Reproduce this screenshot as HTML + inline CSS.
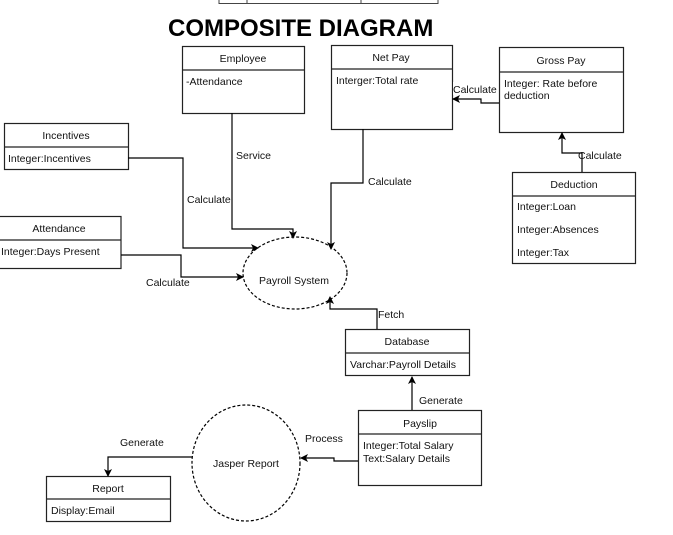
<!DOCTYPE html>
<html><head><style>
html,body{margin:0;padding:0;background:#fff;}
svg{display:block;font-family:"Liberation Sans",Arial,sans-serif;}
</style></head><body>
<svg width="673" height="535" viewBox="0 0 673 535" xmlns="http://www.w3.org/2000/svg">
<defs><marker id="a" markerWidth="8" markerHeight="8" refX="7" refY="4" orient="auto" markerUnits="userSpaceOnUse"><path d="M0,0 L8,4 L0,8 L2,4 Z" fill="#000"/></marker></defs>
<g fill="none" stroke="#444" stroke-width="1">
<path d="M219,0 V3.5 H438 V0 M247,0 V3.5 M361,0 V3.5"/>
</g>
<text x="168" y="36" font-size="24" font-weight="bold" fill="#000">COMPOSITE DIAGRAM</text>
<g fill="#fff" stroke="#222" stroke-width="1.2">
<rect x="182.5" y="46.5" width="122" height="67"/><line x1="182.5" y1="70" x2="304.5" y2="70"/>
<rect x="331.5" y="45.5" width="121" height="84"/><line x1="331.5" y1="69" x2="452.5" y2="69"/>
<rect x="499.5" y="47.5" width="124" height="85"/><line x1="499.5" y1="72" x2="623.5" y2="72"/>
<rect x="4.5" y="123.5" width="124" height="46"/><line x1="4.5" y1="147" x2="128.5" y2="147"/>
<rect x="512.5" y="172.5" width="123" height="91"/><line x1="512.5" y1="196" x2="635.5" y2="196"/>
<rect x="-1" y="216.5" width="122" height="52"/><line x1="0" y1="240" x2="121" y2="240"/>
<rect x="345.5" y="329.5" width="124" height="46"/><line x1="345.5" y1="353" x2="469.5" y2="353"/>
<rect x="358.5" y="410.5" width="123" height="75"/><line x1="358.5" y1="434" x2="481.5" y2="434"/>
<rect x="46.5" y="476.5" width="124" height="45"/><line x1="46.5" y1="499" x2="170.5" y2="499"/>
</g>
<g fill="none" stroke="#000" stroke-width="1.2" stroke-dasharray="3,2">
<ellipse cx="295" cy="273" rx="52" ry="36"/>
<ellipse cx="246" cy="463" rx="54" ry="58"/>
</g>
<g fill="none" stroke="#000" stroke-width="1.2" marker-end="url(#a)">
<path d="M232,113 V229 H293 V238"/>
<path d="M363,129 V183 H331 V249"/>
<path d="M499,103 H481 V99 H453"/>
<path d="M582,172 V153 H562 V133"/>
<path d="M128,158 H183 V248 H258"/>
<path d="M121,255 H181 V277 H243"/>
<path d="M377,329 V309 H330 V297"/>
<path d="M412,410 V377"/>
<path d="M358,461 H334 V458 H301"/>
<path d="M192,457 H108 V476"/>
</g>
<rect x="453" y="82" width="45" height="13" fill="#fff"/>
<g font-size="10.5" fill="#111">
<g text-anchor="middle">
<text x="243" y="62">Employee</text>
<text x="391" y="61">Net Pay</text>
<text x="561" y="64">Gross Pay</text>
<text x="66" y="139">Incentives</text>
<text x="574" y="188">Deduction</text>
<text x="59" y="232">Attendance</text>
<text x="407" y="345">Database</text>
<text x="420" y="427">Payslip</text>
<text x="108" y="492">Report</text>
<text x="294" y="284">Payroll System</text>
<text x="246" y="467">Jasper Report</text>
</g>
<text x="186" y="85">-Attendance</text>
<text x="336" y="84">Interger:Total rate</text>
<text x="504" y="87">Integer: Rate before</text>
<text x="504" y="99">deduction</text>
<text x="8" y="162">Integer:Incentives</text>
<text x="517" y="210">Integer:Loan</text>
<text x="517" y="233">Integer:Absences</text>
<text x="517" y="256">Integer:Tax</text>
<text x="1" y="255">Integer:Days Present</text>
<text x="350" y="368">Varchar:Payroll Details</text>
<text x="363" y="449">Integer:Total Salary</text>
<text x="363" y="462">Text:Salary Details</text>
<text x="51" y="514">Display:Email</text>
<text x="236" y="159">Service</text>
<text x="187" y="203">Calculate</text>
<text x="368" y="185">Calculate</text>
<text x="453" y="93">Calculate</text>
<text x="578" y="159">Calculate</text>
<text x="146" y="286">Calculate</text>
<text x="378" y="318">Fetch</text>
<text x="419" y="404">Generate</text>
<text x="305" y="442">Process</text>
<text x="120" y="446">Generate</text>
</g>
</svg>
</body></html>
